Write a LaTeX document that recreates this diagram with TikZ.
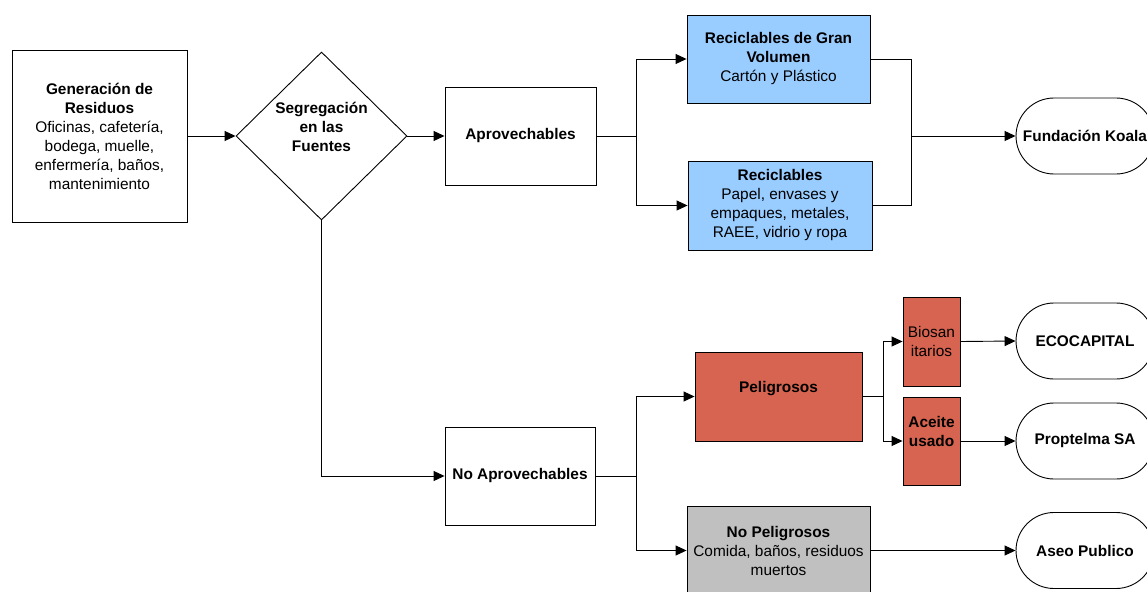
\documentclass[tikz,border=0pt]{standalone}
\usepackage{fontspec}
\setmainfont{Liberation Sans}
\usetikzlibrary{arrows.meta,shapes.geometric}
\definecolor{bluefill}{RGB}{153,204,255}
\definecolor{redfill}{RGB}{215,100,80}
\definecolor{greyfill}{RGB}{192,192,192}
\begin{document}
\begin{tikzpicture}[x=1pt,y=-1pt,
  base/.style={draw, line width=0.9pt, align=center, inner sep=1pt,
    font=\fontsize{15.4}{19}\selectfont},
  boxn/.style={base, rectangle},
  term/.style={base, rectangle, rounded corners=38pt, minimum width=138pt, minimum height=76pt},
  arr/.style={line width=0.9pt, -{Triangle[length=11pt,width=10pt]}},
  ln/.style={line width=0.9pt}]
\useasboundingbox (0,0) rectangle (1147,591);
\clip (0,0) rectangle (1147,591);

\node[boxn, minimum width=175pt, minimum height=172pt] (gen) at (99.5,136)
  {\textbf{Generación de}\\\textbf{Residuos}\\Oficinas, cafetería,\\bodega, muelle,\\enfermería, baños,\\mantenimiento};
\node[base, diamond, inner sep=0pt, minimum width=171pt, minimum height=168pt] (seg) at (321.5,136)
  {\textbf{Segregación}\\\textbf{en las}\\\textbf{Fuentes}\\\mbox{}};
\node[boxn, minimum width=151pt, minimum height=98pt] (apr) at (520.5,136) {\textbf{Aprovechables}};
\node[boxn, fill=bluefill, minimum width=183pt, minimum height=88pt] (gv) at (778.5,59)
  {\textbf{Reciclables de Gran}\\\textbf{Volumen}\\Cartón y Plástico};
\node[boxn, fill=bluefill, minimum width=184pt, minimum height=89pt] (rec) at (780,205.5)
  {\textbf{Reciclables}\\Papel, envases y\\empaques, metales,\\RAEE, vidrio y ropa};
\node[term] (koala) at (1085,136) {\textbf{Fundación Koala}};

\node[boxn, minimum width=150pt, minimum height=98pt] (noapr) at (520,476) {\textbf{No Aprovechables}};
\node[boxn, fill=redfill, minimum width=167pt, minimum height=89pt] (pel) at (778.5,396.5)
  {\textbf{Peligrosos}\\\mbox{}};
\node[boxn, fill=redfill, minimum width=57pt, minimum height=89pt] (bio) at (931.5,341.5)
  {Biosan\\itarios};
\node[boxn, fill=redfill, minimum width=57pt, minimum height=88pt] (ace) at (931.5,441)
  {\textbf{Aceite}\\\textbf{usado}\\\mbox{}};
\node[boxn, fill=greyfill, minimum width=183pt, minimum height=89pt] (nop) at (778.5,550.5)
  {\textbf{No Peligrosos}\\Comida, baños, residuos\\muertos};
\node[term] (eco) at (1085,341) {\textbf{ECOCAPITAL}};
\node[term] (prop) at (1085,441) {\textbf{Proptelma SA}};
\node[term] (aseo) at (1085,550.5) {\textbf{Aseo Publico}};

\coordinate (j1) at (636,136);
\coordinate (j2) at (911.5,136);
\coordinate (j3) at (636,476);
\coordinate (j4) at (883,396.5);

\draw[arr] (gen.east) -- (seg.west);
\draw[arr] (seg.east) -- (apr.west);
\draw[ln] (apr.east) -- (j1);
\draw[arr] (j1) |- (gv.west);
\draw[arr] (j1) |- (rec.west);
\draw[ln] (gv.east) -| (j2);
\draw[ln] (rec.east) -| (j2);
\draw[arr] (j2) -- (koala.west);

\draw[arr] (seg.south) |- (noapr.west);
\draw[ln] (noapr.east) -- (j3);
\draw[arr] (j3) |- (pel.west);
\draw[arr] (j3) |- (nop.west);
\draw[ln] (pel.east) -- (j4);
\draw[arr] (j4) |- (bio.west);
\draw[arr] (j4) |- (ace.west);
\draw[arr] (bio.east) -- (eco.west);
\draw[arr] (ace.east) -- (prop.west);
\draw[arr] (nop.east) -- (aseo.west);
\end{tikzpicture}
\end{document}
